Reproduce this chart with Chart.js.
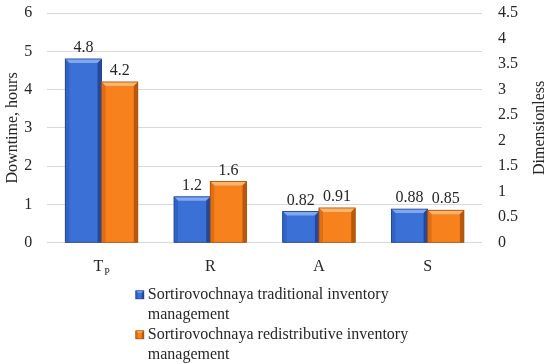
<!DOCTYPE html>
<html><head><meta charset="utf-8">
<script src="https://cdn.jsdelivr.net/npm/chart.js@4/dist/chart.umd.min.js"></script>
<style>html,body{margin:0;padding:0;background:#fff}#wrap{width:550px;height:364px;position:relative}</style>
</head><body><div id="wrap"><canvas id="c"></canvas></div>
<script>
const categories = ['T_P', 'R', 'A', 'S'];
const seriesNames = [
  ['Sortirovochnaya traditional inventory', 'management'],
  ['Sortirovochnaya redistributive inventory', 'management']
];
const traditional = [4.8, 1.2, 0.82, 0.88];
const redistributive = [4.2, 1.6, 0.91, 0.85];
const valueLabels = [['4.8', '1.2', '0.82', '0.88'], ['4.2', '1.6', '0.91', '0.85']];
const leftAxisTitle = 'Downtime, hours';
const rightAxisTitle = 'Dimensionless';

const FONT = "'Liberation Serif', 'Times New Roman', serif";
const TEXT = '#262626';
const palette = [
  {face: '#3b70d6', top: '#7ea8ef', left: '#3163c4', right: '#25489a', edge: '#1f3f8a'},
  {face: '#f7811c', top: '#fbb46c', left: '#e06e12', right: '#b8580c', edge: '#a44d0a'}
];

function drawBevelRect(ctx, l, t, w, h, p, bvMax) {
  const r = l + w, b = t + h;
  const bv = Math.min(bvMax, h / 2, w / 2);
  ctx.fillStyle = p.face; ctx.fillRect(l, t, w, h);
  ctx.fillStyle = p.top;
  ctx.beginPath(); ctx.moveTo(l, t); ctx.lineTo(r, t); ctx.lineTo(r - bv, t + bv); ctx.lineTo(l + bv, t + bv); ctx.closePath(); ctx.fill();
  ctx.fillStyle = p.left;
  ctx.beginPath(); ctx.moveTo(l, t); ctx.lineTo(l + bv, t + bv); ctx.lineTo(l + bv, b); ctx.lineTo(l, b); ctx.closePath(); ctx.fill();
  ctx.fillStyle = p.right;
  ctx.beginPath(); ctx.moveTo(r, t); ctx.lineTo(r - bv, t + bv); ctx.lineTo(r - bv, b); ctx.lineTo(r, b); ctx.closePath(); ctx.fill();
  ctx.strokeStyle = p.edge; ctx.lineWidth = 0.8;
  ctx.strokeRect(l, t, w, h);
}

const decorPlugin = {
  id: 'decor',
  afterDatasetsDraw(chart) {
    const ctx = chart.ctx;
    chart.data.datasets.forEach((ds, di) => {
      const meta = chart.getDatasetMeta(di);
      const p = palette[di];
      meta.data.forEach((el, i) => {
        const w = el.width, l = el.x - w / 2, t = el.y, b = el.base;
        ctx.save();
        drawBevelRect(ctx, l, t, w, b - t, p, 4);
        ctx.fillStyle = TEXT;
        ctx.font = '16px ' + FONT;
        ctx.textAlign = 'center'; ctx.textBaseline = 'bottom';
        ctx.fillText(valueLabels[di][i], el.x, t - 3);
        ctx.restore();
      });
    });
  },
  afterDraw(chart) {
    const ctx = chart.ctx;
    const s = chart.scales.y2;
    const xs = chart.scales.x;
    const area = chart.chartArea;
    ctx.save();
    ctx.fillStyle = TEXT;
    // right axis title (reads bottom-to-top)
    ctx.font = '16px ' + FONT;
    ctx.save();
    ctx.translate(s.right + 6, (s.top + s.bottom) / 2);
    ctx.rotate(-Math.PI / 2);
    ctx.textAlign = 'center'; ctx.textBaseline = 'middle';
    ctx.fillText(rightAxisTitle, 0, 0);
    ctx.restore();
    // category labels with subscripts
    categories.forEach((c, i) => {
      const x = xs.getPixelForTick(i);
      const y = area.bottom + 24;
      const parts = c.split('_');
      ctx.textBaseline = 'middle'; ctx.textAlign = 'left';
      ctx.font = '16px ' + FONT;
      const w0 = ctx.measureText(parts[0]).width;
      let w1 = 0;
      if (parts[1]) { ctx.font = '10px ' + FONT; w1 = ctx.measureText(parts[1]).width + 1; }
      const x0 = x - (w0 + w1) / 2;
      ctx.font = '16px ' + FONT;
      ctx.fillText(parts[0], x0, y);
      if (parts[1]) { ctx.font = '10px ' + FONT; ctx.fillText(parts[1], x0 + w0 + 1, y + 6); }
    });
    // legend
    ctx.font = '16px ' + FONT;
    const lineH = 20;
    let maxW = 0;
    seriesNames.forEach(n => n.forEach(line => { maxW = Math.max(maxW, ctx.measureText(line).width); }));
    const boxW = 8, gap = 4;
    const left = (chart.width - (boxW + gap + maxW)) / 2 - 3;
    let y = area.bottom + 52;
    seriesNames.forEach((n, i) => {
      drawBevelRect(ctx, left, y - 4, boxW, boxW, palette[i], 2);
      ctx.fillStyle = TEXT; ctx.textAlign = 'left'; ctx.textBaseline = 'middle';
      n.forEach(line => { ctx.fillText(line, left + boxW + gap, y); y += lineH; });
    });
    ctx.restore();
  }
};

const noVPad = s => { s.paddingTop = 0; s.paddingBottom = 0; };

new Chart(document.getElementById('c'), {
  type: 'bar',
  data: {
    labels: categories,
    datasets: [
      {label: seriesNames[0].join(' '), data: traditional, backgroundColor: palette[0].face, borderWidth: 0, yAxisID: 'y'},
      {label: seriesNames[1].join(' '), data: redistributive, backgroundColor: palette[1].face, borderWidth: 0, yAxisID: 'y'}
    ]
  },
  options: {
    responsive: true,
    maintainAspectRatio: false,
    animation: false,
    devicePixelRatio: 1,
    layout: {padding: {top: 13, right: 16, left: 3, bottom: 78}},
    datasets: {bar: {barPercentage: 1, categoryPercentage: 0.667}},
    plugins: {
      tooltip: {enabled: false},
      legend: {display: false}
    },
    scales: {
      x: {
        grid: {display: false, drawTicks: false},
        border: {display: false},
        ticks: {color: 'rgba(0,0,0,0)', font: {family: FONT, size: 16}, padding: 12}
      },
      y: {
        position: 'left',
        min: 0, max: 6,
        afterFit: noVPad,
        ticks: {stepSize: 1, color: TEXT, font: {family: FONT, size: 16}, padding: 15},
        grid: {color: '#d9d9d9', lineWidth: 1, drawTicks: false},
        border: {display: false},
        title: {display: true, text: leftAxisTitle, color: TEXT, font: {family: FONT, size: 16}, padding: {top: 0, bottom: -13}}
      },
      y2: {
        position: 'right',
        min: 0, max: 4.5,
        afterFit: noVPad,
        ticks: {stepSize: 0.5, color: TEXT, font: {family: FONT, size: 16}, padding: 16,
          callback: v => String(Math.round(v * 10) / 10)},
        grid: {display: false, drawTicks: false},
        border: {display: false}
      }
    }
  },
  plugins: [decorPlugin]
});
</script>
</body></html>
